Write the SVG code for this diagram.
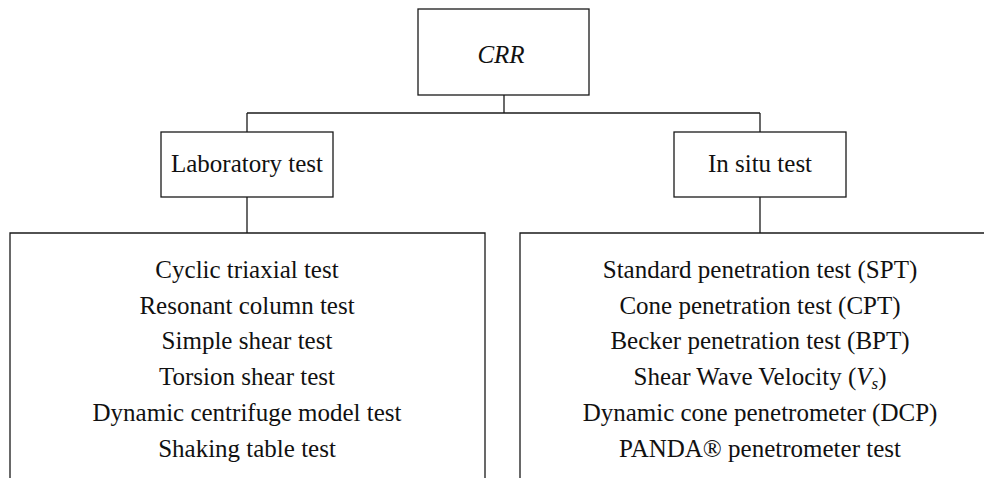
<svg xmlns="http://www.w3.org/2000/svg" width="988" height="478" viewBox="0 0 988 478">
<style>
.box{fill:#fff;stroke:#1a1a1a;stroke-width:1.3}
.ln{fill:none;stroke:#1a1a1a;stroke-width:1.3}
text{font-family:"Liberation Serif","Times New Roman",serif;font-size:25px;fill:#111;text-anchor:middle}
.it{font-style:italic}
</style>
<rect width="988" height="478" fill="#fff"/>
<g id="connectors">
<line class="ln" x1="504" y1="95" x2="504" y2="113"/>
<line class="ln" x1="247" y1="113" x2="760" y2="113"/>
<line class="ln" x1="247" y1="113" x2="247" y2="132"/>
<line class="ln" x1="760" y1="113" x2="760" y2="132"/>
<line class="ln" x1="247" y1="197" x2="247" y2="233"/>
<line class="ln" x1="760" y1="197" x2="760" y2="233"/>
</g>
<g id="crr">
<rect class="box" x="418" y="9" width="171" height="86"/>
<text class="it" x="501" y="63">CRR</text>
</g>
<g id="lab">
<rect class="box" x="161" y="132" width="172" height="65"/>
<text x="247" y="172">Laboratory test</text>
</g>
<g id="insitu">
<rect class="box" x="674" y="132" width="172" height="65"/>
<text x="760" y="172">In situ test</text>
</g>
<g id="lab-list">
<path class="ln" d="M10,479 V233 H485 V479"/>
<text x="247" y="278">Cyclic triaxial test</text>
<text x="247" y="314">Resonant column test</text>
<text x="247" y="349">Simple shear test</text>
<text x="247" y="385">Torsion shear test</text>
<text x="247" y="421">Dynamic centrifuge model test</text>
<text x="247" y="457">Shaking table test</text>
</g>
<g id="insitu-list">
<path class="ln" d="M520,479 V233 H984"/>
<text x="760" y="278">Standard penetration test (SPT)</text>
<text x="760" y="314">Cone penetration test (CPT)</text>
<text x="760" y="349">Becker penetration test (BPT)</text>
<text x="760" y="385">Shear Wave Velocity (<tspan class="it">V</tspan><tspan class="it" font-size="17" dy="4">s</tspan><tspan dy="-4">)</tspan></text>
<text x="760" y="421">Dynamic cone penetrometer (DCP)</text>
<text x="760" y="457">PANDA® penetrometer test</text>
</g>
</svg>
